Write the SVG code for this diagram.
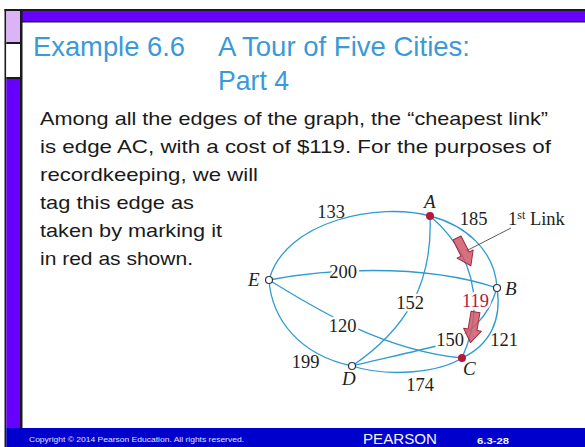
<svg xmlns="http://www.w3.org/2000/svg" width="585" height="447" viewBox="0 0 585 447">
<defs>
<style>
.title{font-family:"Liberation Sans",Arial,sans-serif;font-size:28px;fill:#3A9AD9;}
.body{font-family:"Liberation Sans",Arial,sans-serif;font-size:18.5px;fill:#1A1A1A;}
.edge{fill:none;stroke:#2F9BD1;stroke-width:1.3;}
.lbl{font-family:"Liberation Serif","Times New Roman",serif;font-size:18.5px;fill:#231F20;text-anchor:middle;}
.halo{stroke:#FFFFFF;stroke-width:5;paint-order:stroke;stroke-linejoin:round;}
.node{font-family:"Liberation Serif","Times New Roman",serif;font-size:19px;font-style:italic;fill:#231F20;}
.open{fill:#FFFFFF;stroke:#333333;stroke-width:1.2;}
.red{fill:#B5173F;}
.arrow{fill:#CF5868;fill-opacity:0.85;stroke:#9E2A3C;stroke-width:1;stroke-linejoin:round;}
.foot{font-family:"Liberation Sans",Arial,sans-serif;fill:#E0E0FF;}
</style>
<polygon id="blk" points="-4.5,0 4.5,0 4.5,18 9,18 0,31 -9,18 -4.5,18"/>
</defs>
<rect width="585" height="447" fill="#FFFFFF"/>
<!-- frame -->
<g id="frame">
<rect x="4.5" y="9" width="580.5" height="2.2" fill="#1A1A1A"/>
<rect x="21" y="11" width="564" height="10" fill="#6600FF"/>
<rect x="21" y="21" width="564" height="1.5" fill="#1A1A1A"/>
<rect x="4.5" y="9" width="1.8" height="438" fill="#1A1A1A"/>
<rect x="20" y="11" width="2.5" height="417" fill="#1A1A1A"/>
<rect x="6.3" y="11" width="13.7" height="31" fill="#DDB3F7"/>
<rect x="6.3" y="42" width="13.7" height="2" fill="#1A1A1A"/>
<rect x="6.3" y="44" width="13.7" height="33" fill="#FFFFFF"/>
<rect x="6.3" y="77" width="13.7" height="2" fill="#1A1A1A"/>
<rect x="6.3" y="79" width="13.7" height="349" fill="#6600FF"/>
<rect x="6.3" y="428" width="578.7" height="19" fill="#0000CC"/>
</g>
<!-- title -->
<g id="title">
<text class="title" x="33" y="56" textLength="152" lengthAdjust="spacingAndGlyphs">Example 6.6</text>
<text class="title" x="218" y="56" textLength="252" lengthAdjust="spacingAndGlyphs">A Tour of Five Cities:</text>
<text class="title" x="218" y="90" textLength="71" lengthAdjust="spacingAndGlyphs">Part 4</text>
</g>
<!-- body -->
<g id="bodytext">
<text class="body" x="40" y="125" textLength="508" lengthAdjust="spacingAndGlyphs">Among all the edges of the graph, the “cheapest link”</text>
<text class="body" x="40" y="153" textLength="511" lengthAdjust="spacingAndGlyphs">is edge AC, with a cost of $119. For the purposes of</text>
<text class="body" x="40" y="181" textLength="218" lengthAdjust="spacingAndGlyphs">recordkeeping, we will</text>
<text class="body" x="40" y="209" textLength="154" lengthAdjust="spacingAndGlyphs">tag this edge as</text>
<text class="body" x="40" y="237" textLength="182" lengthAdjust="spacingAndGlyphs">taken by marking it</text>
<text class="body" x="40" y="265" textLength="153" lengthAdjust="spacingAndGlyphs">in red as shown.</text>
</g>
<!-- connectors -->
<g id="connectors">
<path id="e-AE" class="edge" d="M430,216 C380,202 285,220 269,280"/>
<path id="e-AB" class="edge" d="M430,216 C465,225 495,250 497,288"/>
<path id="e-BC" class="edge" d="M497,288 C502,320 490,345 462,358"/>
<path id="e-BD" class="edge" d="M497,288 C488,318 470,336 440,345 C410,353 375,360 352,366"/>
<path id="e-BE" class="edge" d="M269,280 C320,270 420,262 497,288"/>
<path id="e-AC" class="edge" d="M430,216 C470,250 488,300 462,358"/>
<path id="e-AD" class="edge" d="M430,216 C433,285 405,330 352,366"/>
<path id="e-CD" class="edge" d="M352,366 C390,378 440,372 462,358"/>
<path id="e-CE" class="edge" d="M269,280 C310,305 380,350 462,358"/>
<path id="e-DE" class="edge" d="M269,280 C272,320 300,355 352,366"/>
<line id="callout" x1="511" y1="228" x2="466" y2="251" stroke="#4A4A4A" stroke-width="0.9"/>
<use href="#blk" class="arrow" transform="translate(457,238) rotate(-26.6)"/>
<use href="#blk" class="arrow" transform="translate(475.5,312) rotate(9.5)"/>
</g>
<!-- edge labels -->
<g id="edge-labels">
<text class="lbl" x="331" y="218">133</text>
<text class="lbl" x="473.5" y="225">185</text>
<text class="lbl halo" x="343" y="278">200</text>
<text class="lbl halo" x="410" y="309">152</text>
<text class="lbl halo" x="475.5" y="307" style="fill:#B5173F">119</text>
<text class="lbl halo" x="342.5" y="332">120</text>
<text class="lbl halo" x="450" y="346">150</text>
<text class="lbl" x="504" y="346">121</text>
<text class="lbl" x="305.5" y="368">199</text>
<text class="lbl" x="420" y="391">174</text>
<text class="lbl" x="508" y="225" style="text-anchor:start">1<tspan font-size="12" dy="-6">st</tspan><tspan dy="6"> Link</tspan></text>
</g>
<!-- nodes -->
<g id="node-A"><circle class="red" cx="430" cy="216" r="4"/><text class="node" x="424" y="208">A</text></g>
<g id="node-B"><circle class="open" cx="497" cy="288" r="3.5"/><text class="node" x="505" y="295">B</text></g>
<g id="node-C"><circle class="red" cx="462" cy="358" r="4"/><text class="node" x="463" y="375">C</text></g>
<g id="node-D"><circle class="open" cx="352" cy="366" r="3.5"/><text class="node" x="342" y="385">D</text></g>
<g id="node-E"><circle class="open" cx="269" cy="280" r="3.5"/><text class="node" x="248" y="286">E</text></g>
<!-- footer -->
<g id="footer">
<text class="foot" x="29" y="442" font-size="8" textLength="215" lengthAdjust="spacingAndGlyphs">Copyright © 2014  Pearson Education. All rights reserved.</text>
<text class="foot" x="363" y="444" font-size="14" textLength="74" lengthAdjust="spacingAndGlyphs" style="fill:#F4F4FF">PEARSON</text>
<text class="foot" x="477" y="444" font-size="9" font-weight="bold" textLength="32" lengthAdjust="spacingAndGlyphs" style="fill:#F4F4FF">6.3-28</text>
</g>
</svg>
